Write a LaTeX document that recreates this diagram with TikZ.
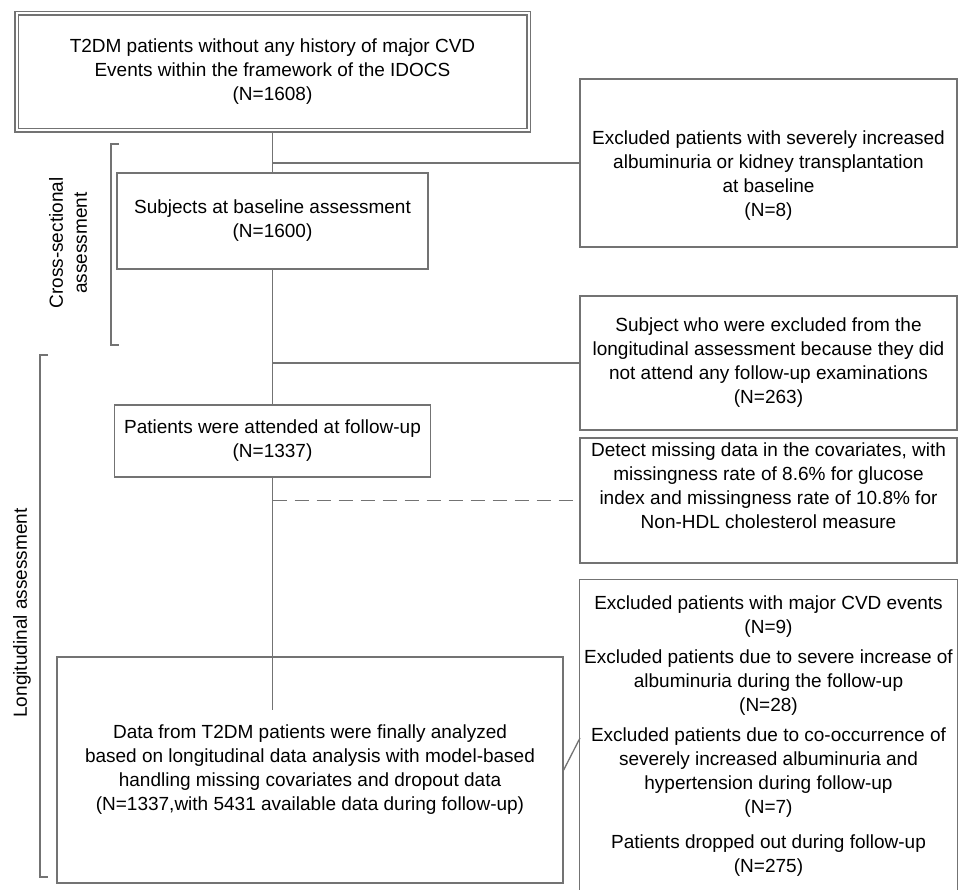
\documentclass[tikz,border=0pt]{standalone}
\usepackage{fontspec}
\setmainfont{Liberation Sans}
\usetikzlibrary{arrows, calc, positioning}

\begin{document}
\begin{tikzpicture}[x=1pt, y=-1pt, line width=1.3pt, font=\fontsize{19}{24}\selectfont]
    \tikzstyle{link}=[draw=black!55]
    \tikzstyle{box}=[draw=black!55, fill=white, align=center, inner sep=0pt]
    \tikzstyle{annot}=[align=center, rotate=90]
    \useasboundingbox (0,0) rectangle (959,890);

    % Draw the main column
    \node[box, double=white, double distance=2pt, minimum width=512pt, minimum height=117pt] (start) at (272.5,72)
        {T2DM patients without any history of major CVD\\ Events within the framework of the IDOCS\\ (N=1608)};
    \node[box, minimum width=311pt, minimum height=96pt] (subj) at (272.5,221)
        {Subjects at baseline assessment\\ (N=1600)};
    \node[box, minimum width=316pt, minimum height=72pt] (att) at (272.5,441)
        {Patients were attended at follow-up\\ (N=1337)};
    \node[box, minimum width=506pt, minimum height=226pt] (final) at (310,770)
        {Data from T2DM patients were finally analyzed\\ based on longitudinal data analysis with model-based\\ handling missing covariates and dropout data\\ (N=1337,with 5431 available data during follow-up)};

    % Draw the exclusion boxes
    \node[box, minimum width=377pt, minimum height=168pt] (excl1) at (768.5,163)
        {\rule{0pt}{38pt}Excluded patients with severely increased\\ albuminuria or kidney transplantation\\ at baseline\\ (N=8)};
    \node[box, minimum width=377pt, minimum height=134pt] (excl2) at (768.5,363)
        {Subject  who were excluded from the\\ longitudinal assessment because they did\\ not attend any follow-up examinations\\ (N=263)};
    \node[box, minimum width=377pt, minimum height=125pt] (excl3) at (768.5,500.5)
        {Detect missing data in the covariates, with\\ missingness rate of 8.6\% for glucose\\ index and missingness rate of 10.8\% for\\ Non-HDL cholesterol measure\rule[-29pt]{0pt}{29pt}};
    \node[align=center, inner sep=0pt, minimum width=377pt, minimum height=312pt] (excl4) at (768.5,736)
        {Excluded patients with major CVD events\\ (N=9)\\[6pt]
         Excluded patients due to severe increase of\\ albuminuria during the follow-up\\ (N=28)\\[6pt]
         Excluded patients due to co-occurrence of\\ severely increased albuminuria and\\ hypertension during follow-up\\ (N=7)\\[11pt]
         Patients dropped out  during follow-up\\ (N=275)};
    \draw[link] (excl4.south west) |- (excl4.north east) -- (excl4.south east);

    % Connect the main column
    \coordinate (j1) at (272.5,163);
    \coordinate (j2) at (272.5,363);
    \coordinate (j3) at (272.5,500.5);
    \coordinate (stem) at (272.5,710);
    \coordinate (k4) at (580,738);
    \draw[link] (start.south) -- (subj.north);
    \draw[link] (subj.south) -- (att.north);
    \draw[link] (att.south) -- (stem);

    % Connect the exclusions
    \draw[link] (j1) -- (excl1.west);
    \draw[link] (j2) -- (excl2.west);
    \draw[link, dash pattern=on 14pt off 8pt] (j3) -- (excl3.west);
    \draw[link] (final.east) -- (k4);

    % Annotate the phases
    \foreach \x/\top/\bot in {111/144/345, 40/355/877}
    \draw[link] (\x+8,\top) -| (\x,\bot) -- (\x+8,\bot);
    \node[annot] (cross) at (68,243) {Cross-sectional\\ assessment};
    \node[annot] (longi) at (22,613) {Longitudinal assessment};
\end{tikzpicture}
\end{document}
